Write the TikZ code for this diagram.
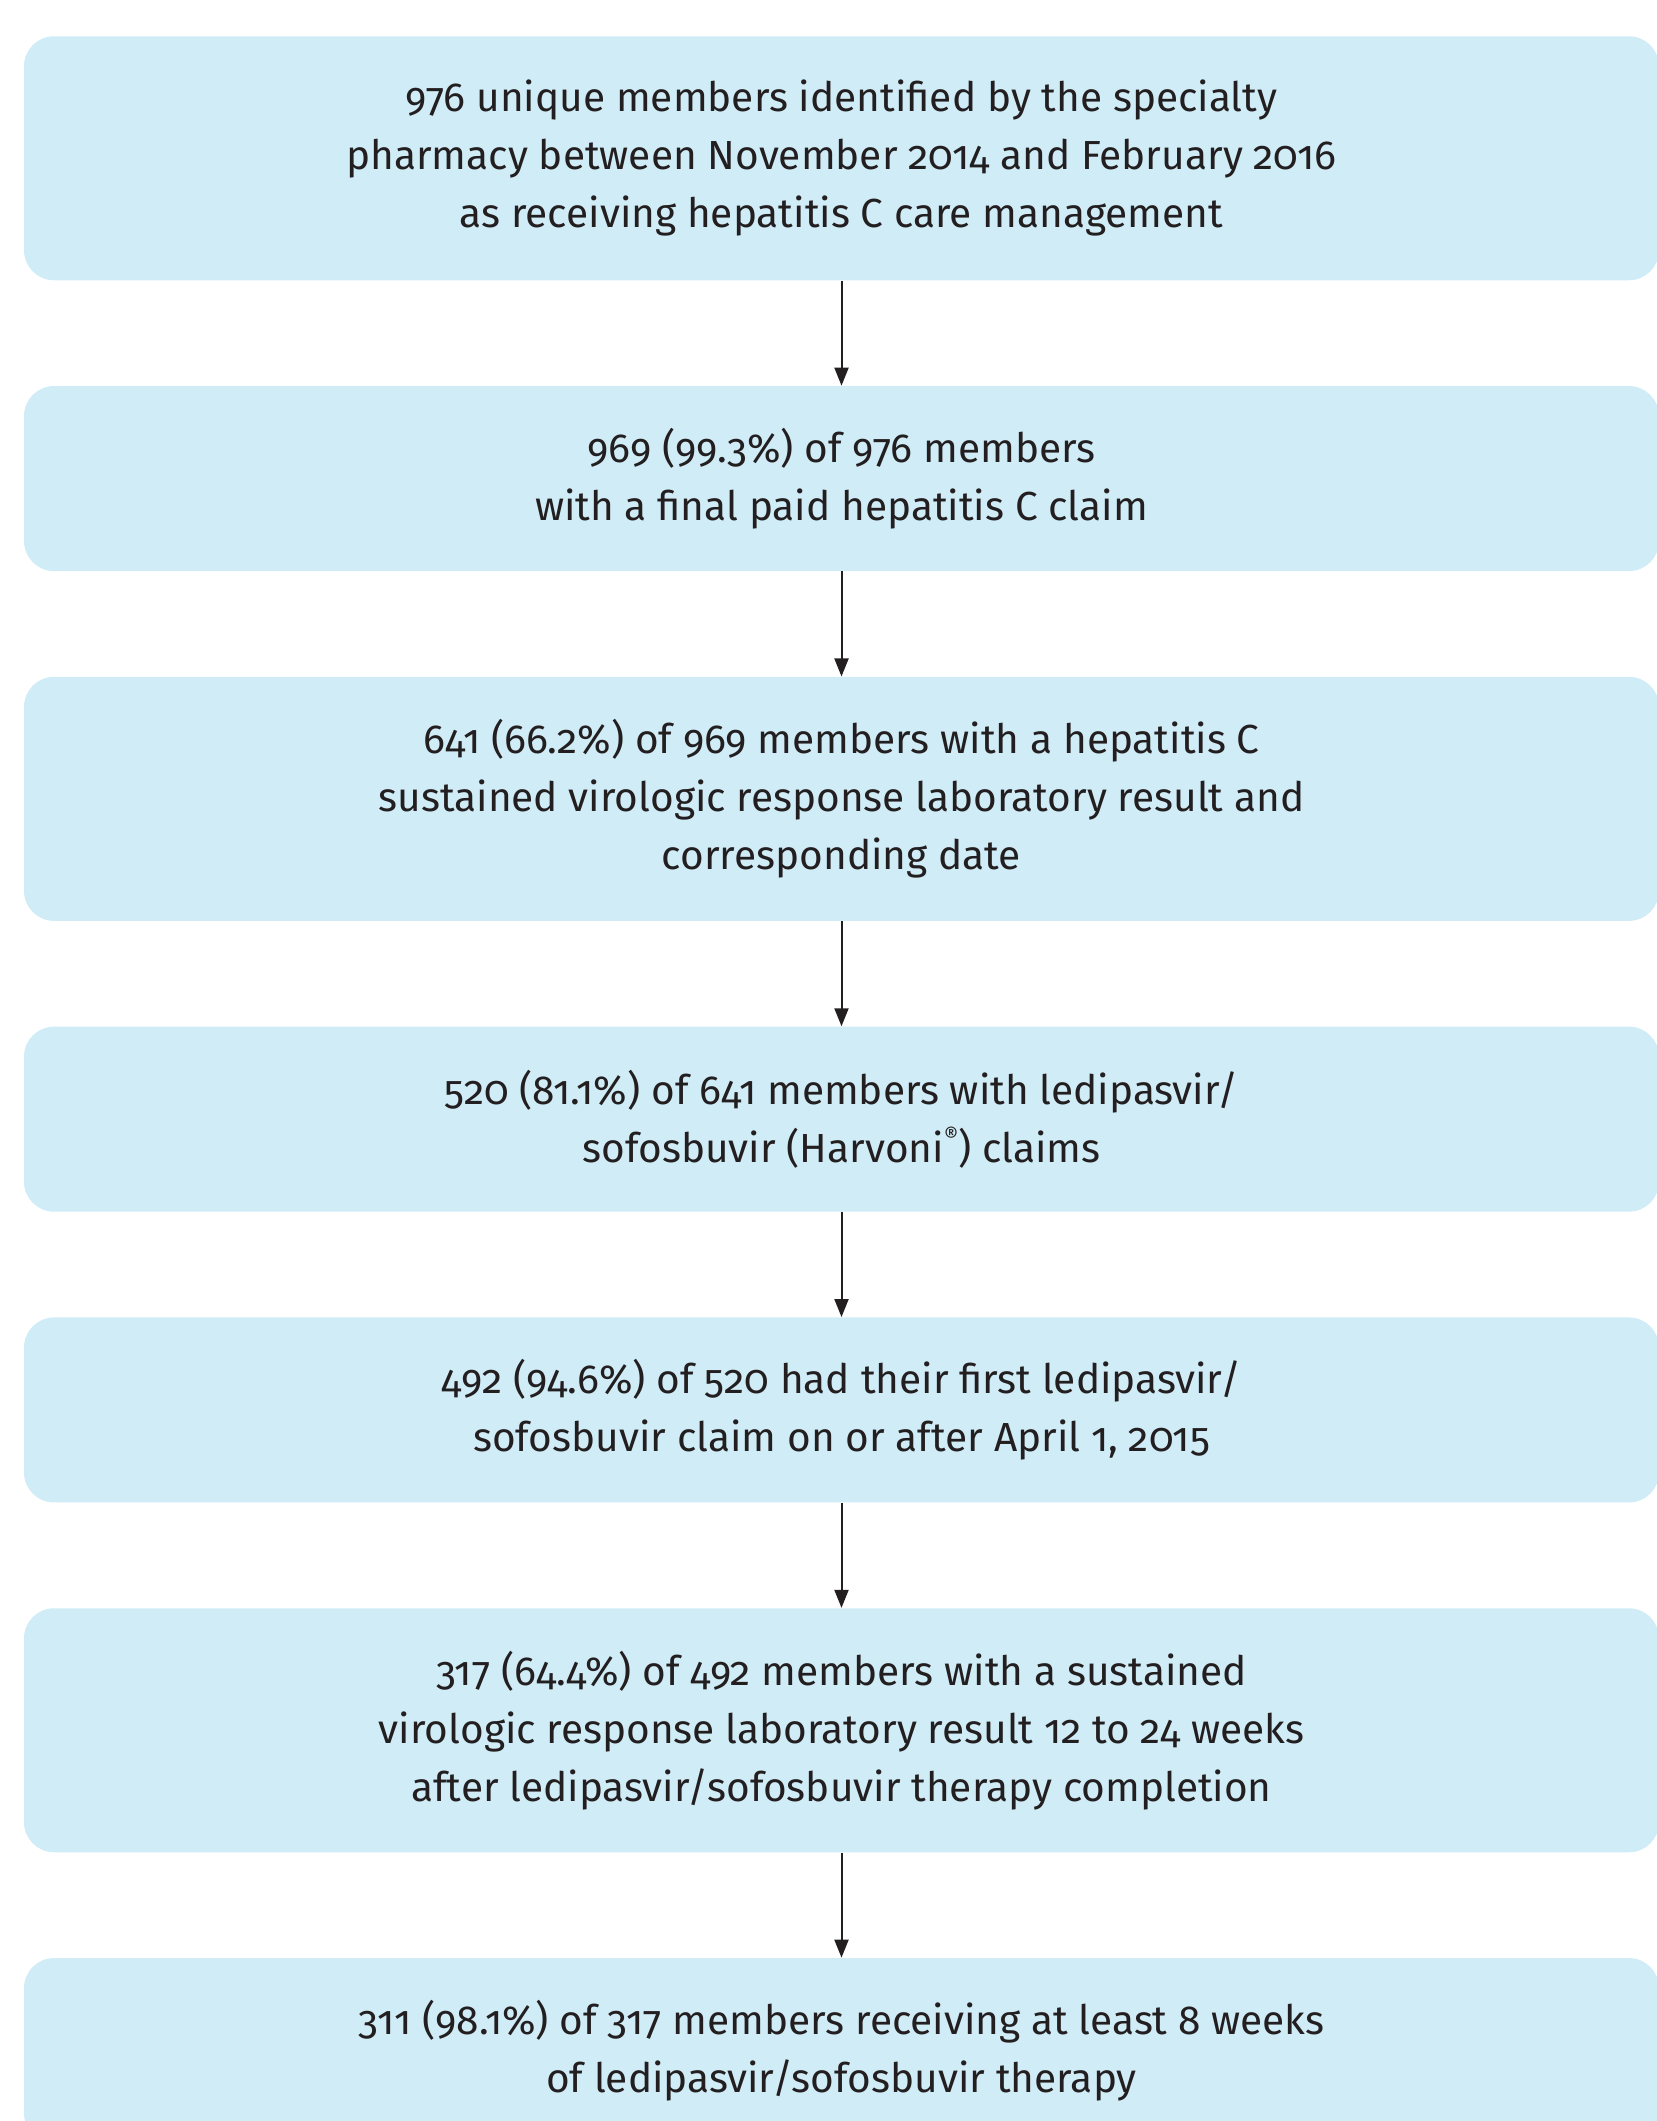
\documentclass[tikz,border=0pt]{standalone}
\usepackage{fontspec}
\setmainfont{Fira Sans}[Numbers=OldStyle]
\usetikzlibrary{positioning,arrows.meta}
\definecolor{boxblue}{RGB}{208,236,247}
\definecolor{inkgray}{RGB}{35,31,32}

\begin{document}
\begin{tikzpicture}[x=0.5pt,y=-0.5pt,
        stepbox/.style={fill=boxblue, rounded corners=15pt, minimum width=817.5pt,
            inner sep=0pt, text=inkgray, align=center,
            font=\fontsize{20.3}{29}\selectfont},
        twoline/.style={stepbox, minimum height=92.5pt},
        threeline/.style={stepbox, minimum height=122pt},
        flow/.style={draw=inkgray, line width=1pt, -{Triangle[width=7pt,length=9pt]}}]
        % Page size of the figure
        \useasboundingbox (0,0) rectangle (1656,2121);

        % Boxes of the flow chart
        \node[threeline] (identified) at (841.5,158.25) {976 unique members identified by the specialty\\
            pharmacy between November 2014 and February 2016\\
            as receiving hepatitis C care management};
        \node[twoline, below=52.5pt of identified] (paid) {969 (99.3\%) of 976 members\\
            with a final paid hepatitis C claim};
        \node[threeline, below=52.5pt of paid] (svrlab) {641 (66.2\%) of 969 members with a hepatitis C\\
            sustained virologic response laboratory result and\\
            corresponding date};
        \node[twoline, below=52.5pt of svrlab] (harvoni) {520 (81.1\%) of 641 members with ledipasvir/\\
            sofosbuvir (Harvoni\raisebox{0.9ex}{\fontsize{11}{11}\selectfont\textregistered}) claims};
        \node[twoline, below=52.5pt of harvoni] (april) {492 (94.6\%) of 520 had their first ledipasvir/\\
            sofosbuvir claim on or after April 1, 2015};
        \node[threeline, below=52.5pt of april] (weeks) {317 (64.4\%) of 492 members with a sustained\\
            virologic response laboratory result 12 to 24 weeks\\
            after ledipasvir/sofosbuvir therapy completion};
        \node[twoline, below=52.5pt of weeks] (eight) {311 (98.1\%) of 317 members receiving at least 8 weeks\\
            of ledipasvir/sofosbuvir therapy};

        % Arrows between the boxes
        \draw[flow] (identified) -- (paid);
        \draw[flow] (paid) -- (svrlab);
        \draw[flow] (svrlab) -- (harvoni);
        \draw[flow] (harvoni) -- (april);
        \draw[flow] (april) -- (weeks);
        \draw[flow] (weeks) -- (eight);
    \end{tikzpicture}
\end{document}
